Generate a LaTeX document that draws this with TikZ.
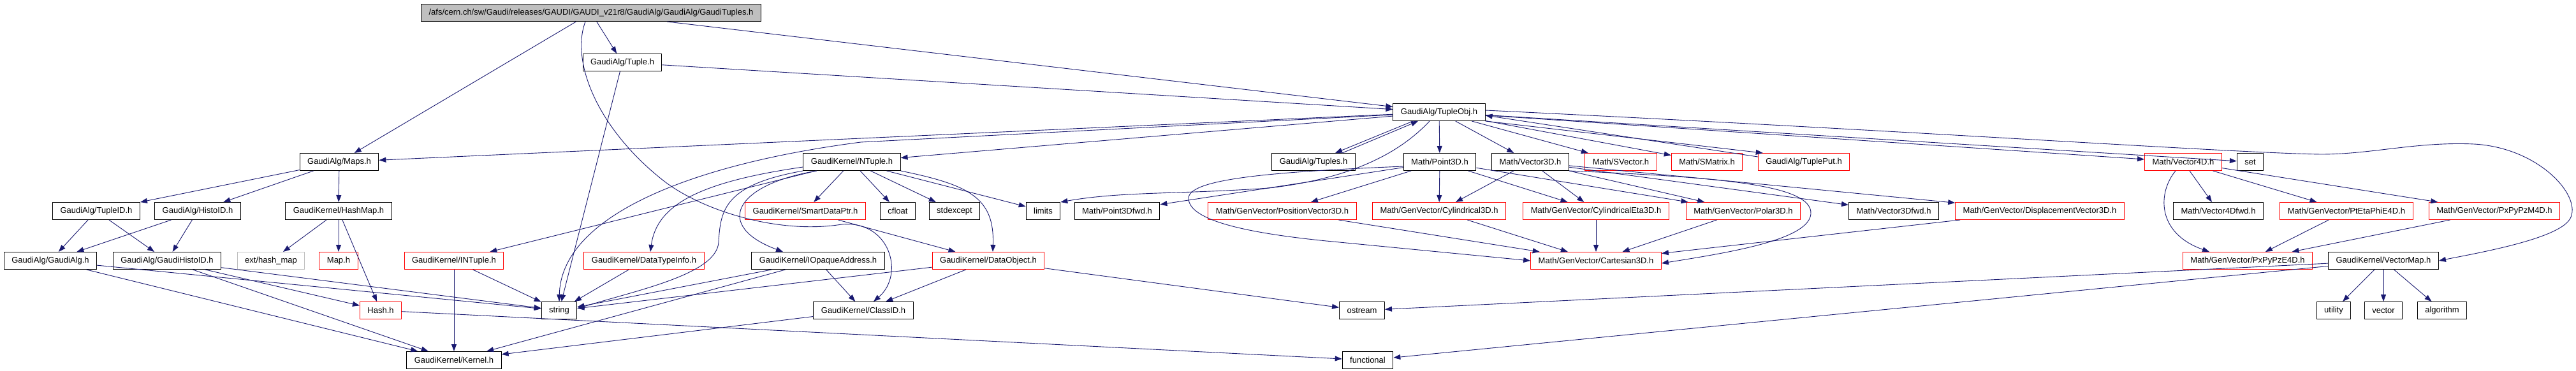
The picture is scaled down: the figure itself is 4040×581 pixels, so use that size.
\documentclass[tikz,border=0pt]{standalone}
\usepackage{fontspec}
\setmainfont{Liberation Sans}
\usetikzlibrary{arrows.meta}
\definecolor{edgeblue}{RGB}{25,25,112}
\definecolor{nodegray}{RGB}{191,191,191}

\begin{document}
\begin{tikzpicture}[x=1pt,y=-1pt,
  hdr/.style={draw=black,line width=1pt,inner xsep=12pt,inner ysep=0pt,minimum height=27pt,font=\fontsize{13}{15}\selectfont},
  trunc/.style={hdr,draw=red},
  sys/.style={hdr,draw=nodegray},
  dep/.style={draw=edgeblue,line width=0.9pt,-{Triangle[length=11pt,width=8pt]}}]
\useasboundingbox (0,0) rectangle (4040,581);

\node[hdr,fill=nodegray] (gtuples) at (927,20) {/afs/cern.ch/sw/Gaudi/releases/GAUDI/GAUDI\_v21r8/GaudiAlg/GaudiAlg/GaudiTuples.h};
\node[hdr] (tuple) at (976,98) {GaudiAlg/Tuple.h};
\node[hdr] (tupleobj) at (2257,176) {GaudiAlg/TupleObj.h};

\node[hdr] (maps) at (532,254) {GaudiAlg/Maps.h};
\node[hdr] (ntuple) at (1336,254) {GaudiKernel/NTuple.h};
\node[hdr] (tuples) at (2060,254) {GaudiAlg/Tuples.h};
\node[hdr] (point3d) at (2258,254) {Math/Point3D.h};
\node[hdr] (vector3d) at (2400,254) {Math/Vector3D.h};
\node[trunc] (svector) at (2542,254) {Math/SVector.h};
\node[trunc] (smatrix) at (2677,254) {Math/SMatrix.h};
\node[trunc] (tupleput) at (2829,254) {GaudiAlg/TuplePut.h};
\node[trunc] (vector4d) at (3424,254) {Math/Vector4D.h};
\node[hdr] (stdset) at (3529,254) {set};

\node[hdr] (tupleid) at (151,331) {GaudiAlg/TupleID.h};
\node[hdr] (histoid) at (310,331) {GaudiAlg/HistoID.h};
\node[hdr] (hashmap) at (531,331) {GaudiKernel/HashMap.h};
\node[trunc] (smartdataptr) at (1263,331) {GaudiKernel/SmartDataPtr.h};
\node[hdr] (cfloat) at (1408,331) {cfloat};
\node[hdr] (stdexcept) at (1497,331) {stdexcept};
\node[hdr] (limits) at (1636,331) {limits};
\node[hdr] (point3dfwd) at (1752,331) {Math/Point3Dfwd.h};
\node[trunc] (positionvector) at (2011,331) {Math/GenVector/PositionVector3D.h};
\node[trunc] (cylindrical) at (2257,331) {Math/GenVector/Cylindrical3D.h};
\node[trunc] (cylindricaleta) at (2503,331) {Math/GenVector/CylindricalEta3D.h};
\node[trunc] (polar) at (2734,331) {Math/GenVector/Polar3D.h};
\node[hdr] (vector3dfwd) at (2970,331) {Math/Vector3Dfwd.h};
\node[trunc] (displacement) at (3199,331) {Math/GenVector/DisplacementVector3D.h};
\node[hdr] (vector4dfwd) at (3479,331) {Math/Vector4Dfwd.h};
\node[trunc] (ptetaphie) at (3680,331) {Math/GenVector/PtEtaPhiE4D.h};
\node[trunc] (pxpypzm) at (3912,331) {Math/GenVector/PxPyPzM4D.h};

\node[hdr] (gaudialg) at (79,409) {GaudiAlg/GaudiAlg.h};
\node[hdr] (gaudihistoid) at (262,409) {GaudiAlg/GaudiHistoID.h};
\node[sys] (hashext) at (425,409) {ext/hash\_map};
\node[trunc] (map) at (531,409) {Map.h};
\node[trunc] (intuple) at (712,409) {GaudiKernel/INTuple.h};
\node[trunc] (datatypeinfo) at (1010,409) {GaudiKernel/DataTypeInfo.h};
\node[hdr] (iopaque) at (1283,409) {GaudiKernel/IOpaqueAddress.h};
\node[trunc] (dataobject) at (1550,409) {GaudiKernel/DataObject.h};
\node[trunc] (cartesian) at (2503,409) {Math/GenVector/Cartesian3D.h};
\node[trunc] (pxpypze) at (3525,409) {Math/GenVector/PxPyPzE4D.h};
\node[hdr] (vectormap) at (3738,409) {GaudiKernel/VectorMap.h};

\node[trunc] (hash) at (597,487) {Hash.h};
\node[hdr] (string) at (877,487) {string};
\node[hdr] (classid) at (1354,487) {GaudiKernel/ClassID.h};
\node[hdr] (ostream) at (2136,487) {ostream};
\node[hdr] (utility) at (3660,487) {utility};
\node[hdr] (vector) at (3738,487) {vector};
\node[hdr] (algorithm) at (3830,487) {algorithm};

\node[hdr] (kernel) at (712,565) {GaudiKernel/Kernel.h};
\node[hdr] (functional) at (2145,565) {functional};

\foreach \a/\b in {gtuples/maps,gtuples/tuple,gtuples/tupleobj,tuple/tupleobj,tuple/string,
  tupleobj/maps,tupleobj/ntuple,tupleobj/point3d,tupleobj/vector3d,tupleobj/svector,tupleobj/smatrix,tupleobj/vector4d,tupleobj/stdset,
  maps/tupleid,maps/histoid,maps/hashmap,tupleid/gaudialg,tupleid/gaudihistoid,histoid/gaudialg,histoid/gaudihistoid,
  hashmap/hashext,hashmap/map,hashmap/hash,gaudialg/string,gaudialg/kernel,gaudihistoid/string,gaudihistoid/kernel,gaudihistoid/hash,
  hash/functional,ntuple/intuple,ntuple/smartdataptr,ntuple/cfloat,ntuple/stdexcept,ntuple/limits,smartdataptr/dataobject,
  intuple/string,intuple/kernel,datatypeinfo/string,iopaque/string,iopaque/kernel,iopaque/classid,
  dataobject/string,dataobject/classid,dataobject/ostream,classid/kernel,
  point3d/point3dfwd,point3d/positionvector,point3d/cylindrical,point3d/cylindricaleta,point3d/polar,
  vector3d/cylindrical,vector3d/cylindricaleta,vector3d/polar,vector3d/vector3dfwd,vector3d/displacement,
  positionvector/cartesian,cylindrical/cartesian,cylindricaleta/cartesian,polar/cartesian,displacement/cartesian,
  vector4d/vector4dfwd,vector4d/ptetaphie,vector4d/pxpypzm,ptetaphie/pxpypze,pxpypzm/pxpypze,
  vectormap/utility,vectormap/vector,vectormap/algorithm,vectormap/ostream,vectormap/functional}
  \draw[dep] (\a) -- (\b);

\draw[dep] ([xshift=-41pt]tupleobj.south) -- ([xshift=34pt]tuples.north);
\draw[dep] ([xshift=45pt]tuples.north) -- ([xshift=-33pt]tupleobj.south);
\draw[dep] (tupleobj.south east) -- ([xshift=8pt]tupleput.north west);
\draw[dep] ([yshift=-6pt]tupleput.north west) -- ([yshift=-5pt]tupleobj.east);

\draw[dep] ([xshift=-9pt]gtuples.south) .. controls (895,95) and (935,200) .. (1040,283)
  .. controls (1100,330) and (1220,368) .. (1320,352) .. controls (1395,345) and (1420,430) .. ([xshift=16pt]classid.north);
\draw[dep] ([yshift=-4pt]tupleobj.west) -- (1350,223) .. controls (1080,258) and (880,340) .. (string.north);
\draw[dep] ([xshift=-15pt]tupleobj.south) .. controls (2195,240) and (2120,280) .. (1990,295)
  .. controls (1850,305) and (1760,300) .. (limits.north east);
\draw[dep] ([yshift=3pt]tupleobj.east) .. controls (3000,205) and (3500,240) .. (3640,242)
  .. controls (3720,242) and (3790,222) .. (3880,226) .. controls (3990,232) and (4060,320) .. (4025,350)
  .. controls (3995,378) and (3880,398) .. (vectormap.east);

\draw[dep] ([yshift=-8pt]ntuple.west) .. controls (1100,285) and (1030,320) .. ([xshift=10pt]datatypeinfo.north);
\draw[dep] ([xshift=-55pt]ntuple.south) .. controls (1150,290) and (1120,355) .. ([xshift=-55pt]iopaque.north);
\draw[dep] (ntuple.south west) .. controls (1135,290) and (1130,330) .. (1127,380)
  .. controls (1124,430) and (1000,455) .. ([yshift=3pt]string.east);
\draw[dep] (ntuple.south east) .. controls (1520,290) and (1560,310) .. ([xshift=7pt]dataobject.north);

\draw[dep] ([yshift=-7pt]point3d.west) .. controls (1980,270) and (1862,282) .. (1864,312)
  .. controls (1866,345) and (1950,365) .. (2080,378) -- (cartesian.west);
\draw[dep] (vector3d.south east) .. controls (2700,278) and (2842,290) .. (2840,335)
  .. controls (2838,375) and (2720,395) .. ([yshift=-4pt]cartesian.east);
\draw[dep] ([xshift=-12pt]vector4d.south) .. controls (3385,300) and (3380,365) .. ([xshift=-60pt]pxpypze.north);

\end{tikzpicture}
\end{document}
